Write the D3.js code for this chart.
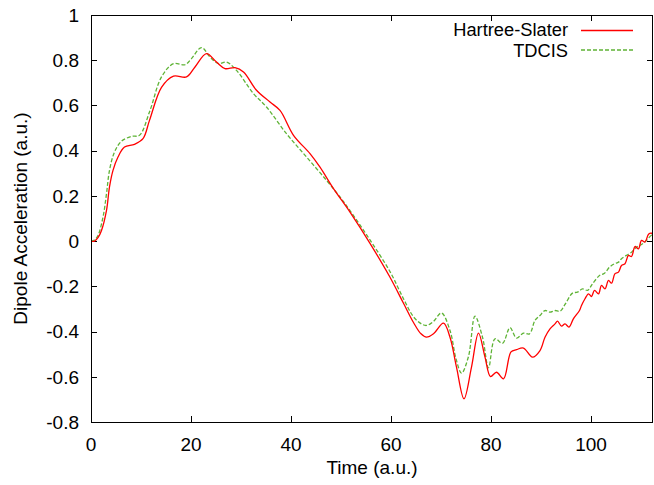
<!DOCTYPE html>
<html>
<head>
<meta charset="utf-8">
<script src="https://cdn.jsdelivr.net/npm/d3@7"></script>
<style>
  html, body { margin: 0; padding: 0; background: #fff; }
  svg { display: block; }
  text { font-family: "Liberation Sans", Arial, Helvetica, sans-serif; fill: #000; }
</style>
</head>
<body>
<svg id="chart" width="654" height="485"></svg>
<script>
// ---- Data ----
const seriesNames = ["Hartree-Slater", "TDCIS"];

const hsTime = [0, 0.7, 1.4, 2.1, 3.1, 3.7, 4.4, 5.4, 6.7, 8.7, 10.4, 11.7, 14.1, 16.5, 19.1, 20.8, 23.1, 25.1, 26.8, 28.8, 30.5, 33.1, 35.8, 37.8, 40.5, 43.8, 45.8, 48.5, 51.8, 55.8, 59.8, 62.5, 64.5, 66.0, 67.1, 68.5, 70.5, 71.8, 73.1, 74.6, 76.1, 77.5, 78.8, 79.9, 81.1, 82.5, 84.0, 85.1, 86.5, 88.3, 89.8, 90.8, 91.8, 92.8, 93.3, 94.1, 94.8, 95.6, 96.5, 97.7, 98.1, 98.8, 99.5, 100.1, 100.7, 101.5, 102.1, 102.8, 103.5, 104.1, 104.8, 105.5, 106.1, 106.8, 107.5, 108.1, 108.8, 109.5, 110.1, 110.8, 111.5, 112.1, 112.4];
const hsValue = [0, 0, 0.015, 0.047, 0.136, 0.24, 0.313, 0.372, 0.416, 0.428, 0.453, 0.534, 0.68, 0.73, 0.726, 0.77, 0.829, 0.792, 0.763, 0.767, 0.748, 0.667, 0.615, 0.578, 0.468, 0.387, 0.327, 0.232, 0.128, -0.01, -0.16, -0.275, -0.36, -0.41, -0.425, -0.41, -0.363, -0.425, -0.557, -0.697, -0.557, -0.407, -0.513, -0.599, -0.58, -0.609, -0.49, -0.48, -0.473, -0.513, -0.484, -0.425, -0.388, -0.366, -0.354, -0.376, -0.366, -0.38, -0.343, -0.307, -0.285, -0.255, -0.233, -0.245, -0.218, -0.233, -0.196, -0.211, -0.174, -0.186, -0.144, -0.137, -0.108, -0.100, -0.063, -0.068, -0.024, -0.034, 0.003, -0.004, 0.030, 0.035, 0.025];

const tdTime = [0, 0.7, 1.4, 2.4, 3.1, 3.7, 4.7, 6.1, 8.1, 9.7, 11.8, 14.1, 16.5, 18.8, 20.1, 22.1, 23.8, 25.5, 27.1, 29.1, 32.5, 35.1, 39.1, 43.1, 47.1, 49.8, 51.8, 55.8, 59.8, 62.5, 64.5, 66.0, 67.1, 68.5, 70.1, 71.8, 73.0, 74.1, 75.5, 76.8, 78.3, 79.5, 80.8, 82.3, 83.8, 85.1, 86.5, 87.7, 88.8, 89.8, 90.8, 91.8, 92.8, 93.8, 94.8, 96.3, 97.3, 98.3, 99.3, 100.3, 101.7, 102.7, 103.7, 104.7, 105.5, 106.1, 107.1, 108.1, 109.1, 110.1, 111.1, 112.1, 112.4];
const tdValue = [0, 0.005, 0.025, 0.106, 0.21, 0.313, 0.394, 0.442, 0.463, 0.468, 0.578, 0.726, 0.785, 0.78, 0.807, 0.856, 0.814, 0.785, 0.792, 0.755, 0.652, 0.593, 0.475, 0.372, 0.269, 0.195, 0.135, 0.005, -0.135, -0.255, -0.335, -0.365, -0.373, -0.355, -0.318, -0.395, -0.52, -0.584, -0.51, -0.332, -0.425, -0.56, -0.432, -0.452, -0.383, -0.429, -0.407, -0.41, -0.351, -0.329, -0.307, -0.314, -0.307, -0.31, -0.28, -0.23, -0.226, -0.211, -0.218, -0.189, -0.152, -0.142, -0.115, -0.100, -0.093, -0.078, -0.063, -0.049, -0.027, -0.015, 0.003, 0.025, 0.022];

const xTicks = [0, 20, 40, 60, 80, 100];
const yTicks = [-0.8, -0.6, -0.4, -0.2, 0, 0.2, 0.4, 0.6, 0.8, 1];
const xDomain = [0, 112.4];
const yDomain = [-0.8, 1];

// ---- Layout ----
const L = 91, R = 653, T = 15, B = 422;
const svg = d3.select("#chart");
const x = d3.scaleLinear().domain(xDomain).range([L, R]);
const y = d3.scaleLinear().domain(yDomain).range([B, T]);

const fmtY = d => String(+d.toFixed(1));
const fs = 19;

// tick marks (mirrored on all four sides, pointing inward)
const tickLen = 6;
const g = svg.append("g").attr("stroke", "#000").attr("stroke-width", 1).attr("shape-rendering", "crispEdges");
xTicks.forEach(t => {
  const px = Math.round(x(t)) + 0.5;
  g.append("line").attr("x1", px).attr("x2", px).attr("y1", B).attr("y2", B - tickLen);
  g.append("line").attr("x1", px).attr("x2", px).attr("y1", T).attr("y2", T + tickLen);
});
yTicks.forEach(v => {
  const py = Math.round(y(v)) + 0.5;
  g.append("line").attr("x1", L).attr("x2", L + tickLen).attr("y1", py).attr("y2", py);
  g.append("line").attr("x1", R).attr("x2", R - tickLen).attr("y1", py).attr("y2", py);
});

// tick labels
svg.append("g").selectAll("text").data(xTicks).join("text")
  .attr("x", d => x(d)).attr("y", 451)
  .attr("text-anchor", "middle").attr("font-size", fs)
  .text(d => d);
svg.append("g").selectAll("text").data(yTicks).join("text")
  .attr("x", 79).attr("y", d => y(d) + 6.8)
  .attr("text-anchor", "end").attr("font-size", fs)
  .text(fmtY);

// axis labels
svg.append("text").attr("x", (L + R) / 2).attr("y", 474)
  .attr("text-anchor", "middle").attr("font-size", fs).text("Time (a.u.)");
svg.append("text").attr("transform", `translate(27,${(T + B) / 2}) rotate(-90)`)
  .attr("text-anchor", "middle").attr("font-size", fs).text("Dipole Acceleration (a.u.)");

// curves
const line = d3.line().x(d => x(d[0])).y(d => y(d[1])).curve(d3.curveCatmullRom.alpha(0.5));
const hsData = hsTime.map((t, i) => [t, hsValue[i]]);
const tdData = tdTime.map((t, i) => [t, tdValue[i]]);

svg.append("clipPath").attr("id", "clip").append("rect")
  .attr("x", L).attr("y", T).attr("width", R - L).attr("height", B - T);

const red = "#ff0000", green = "#5fb336";
svg.append("path").attr("d", line(tdData)).attr("fill", "none")
  .attr("stroke", green).attr("stroke-width", 1.3).attr("stroke-dasharray", "4,2")
  .attr("clip-path", "url(#clip)");
svg.append("path").attr("d", line(hsData)).attr("fill", "none")
  .attr("stroke", red).attr("stroke-width", 1.3)
  .attr("clip-path", "url(#clip)");

// frame
svg.append("rect").attr("x", L + 0.5).attr("y", T + 0.5).attr("width", R - L - 1).attr("height", B - T)
  .attr("fill", "none").attr("stroke", "#000").attr("stroke-width", 1).attr("shape-rendering", "crispEdges");

// legend
const legend = [
  { name: seriesNames[0], color: red, dash: null, ty: 36.3, ly: 30.5 },
  { name: seriesNames[1], color: green, dash: "4,2", ty: 56.5, ly: 50 }
];
legend.forEach(d => {
  svg.append("text").attr("x", 568).attr("y", d.ty).attr("text-anchor", "end")
    .attr("font-size", 18.3).text(d.name);
  svg.append("line").attr("x1", 581).attr("x2", 633).attr("y1", d.ly).attr("y2", d.ly)
    .attr("stroke", d.color).attr("stroke-width", 1.3).attr("stroke-dasharray", d.dash);
});
</script>
</body>
</html>
